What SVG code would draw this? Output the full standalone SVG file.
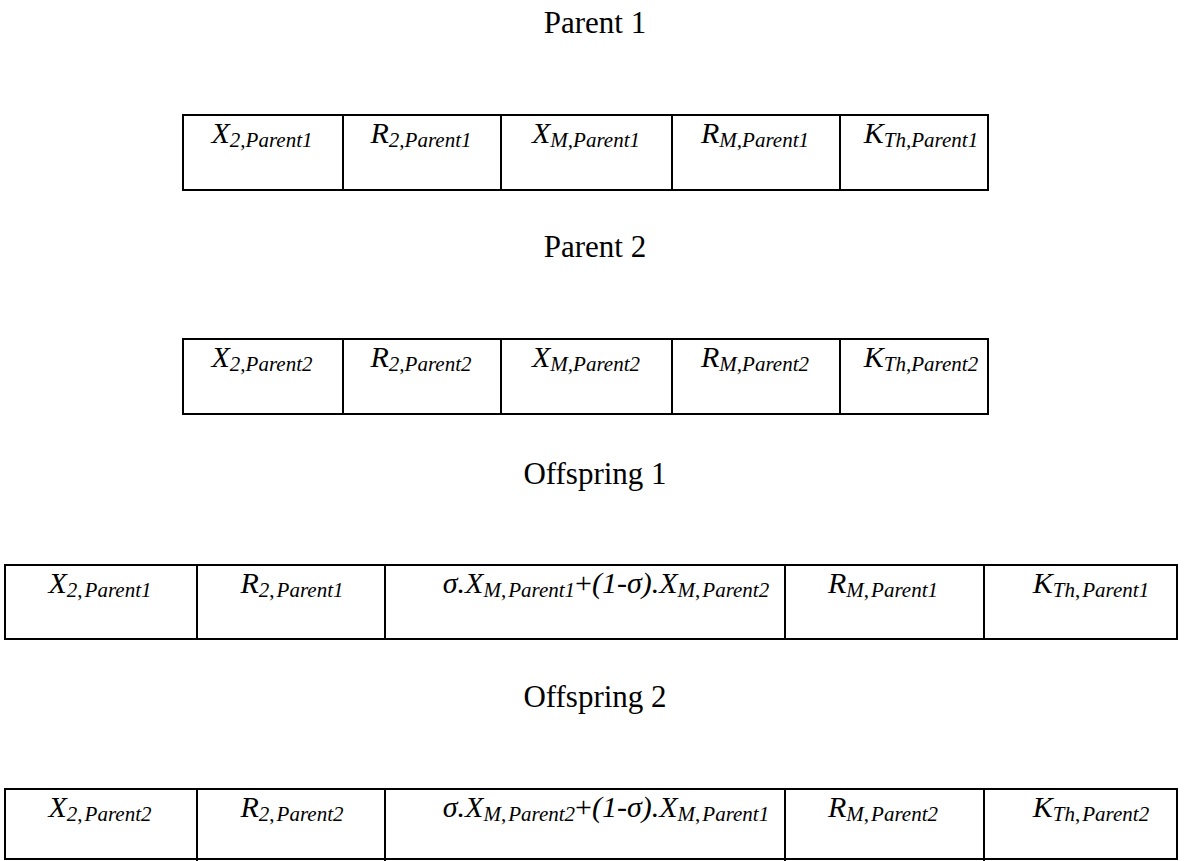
<svg xmlns="http://www.w3.org/2000/svg" width="1189" height="861" viewBox="0 0 1189 861">
<style>
.title{font-family:"Liberation Serif","Times New Roman",serif;font-size:31px;fill:#000;text-anchor:middle}
.cell{font-family:"Liberation Serif","Times New Roman",serif;font-size:30px;font-style:italic;fill:#000;text-anchor:middle}
.s{font-size:21px}
.up{font-style:normal}
.box{fill:#fff;stroke:#000;stroke-width:2}
.div{stroke:#000;stroke-width:2}
</style>
<rect width="1189" height="861" fill="#fff"/>

<g id="parent1">
<text class="title" x="595" y="33">Parent 1</text>
<rect class="box" x="183" y="115" width="805" height="75"/>
<line class="div" x1="343" y1="115" x2="343" y2="190"/>
<line class="div" x1="501" y1="115" x2="501" y2="190"/>
<line class="div" x1="672" y1="115" x2="672" y2="190"/>
<line class="div" x1="840" y1="115" x2="840" y2="190"/>
<text class="cell" x="262" y="143">X<tspan class="s" dy="4">2,Parent1</tspan></text>
<text class="cell" x="421" y="143">R<tspan class="s" dy="4">2,Parent1</tspan></text>
<text class="cell" x="586" y="143">X<tspan class="s" dy="4">M,Parent1</tspan></text>
<text class="cell" x="755" y="143">R<tspan class="s" dy="4">M,Parent1</tspan></text>
<text class="cell" x="921" y="143">K<tspan class="s" dy="4">Th,Parent1</tspan></text>
</g>

<g id="parent2">
<text class="title" x="595" y="257">Parent 2</text>
<rect class="box" x="183" y="339" width="805" height="75"/>
<line class="div" x1="343" y1="339" x2="343" y2="414"/>
<line class="div" x1="501" y1="339" x2="501" y2="414"/>
<line class="div" x1="672" y1="339" x2="672" y2="414"/>
<line class="div" x1="840" y1="339" x2="840" y2="414"/>
<text class="cell" x="262" y="367">X<tspan class="s" dy="4">2,Parent2</tspan></text>
<text class="cell" x="421" y="367">R<tspan class="s" dy="4">2,Parent2</tspan></text>
<text class="cell" x="586" y="367">X<tspan class="s" dy="4">M,Parent2</tspan></text>
<text class="cell" x="755" y="367">R<tspan class="s" dy="4">M,Parent2</tspan></text>
<text class="cell" x="921" y="367">K<tspan class="s" dy="4">Th,Parent2</tspan></text>
</g>

<g id="offspring1">
<text class="title" x="595" y="484">Offspring 1</text>
<rect class="box" x="5" y="565" width="1172" height="74"/>
<line class="div" x1="197" y1="565" x2="197" y2="639"/>
<line class="div" x1="385" y1="565" x2="385" y2="639"/>
<line class="div" x1="785" y1="565" x2="785" y2="639"/>
<line class="div" x1="984" y1="565" x2="984" y2="639"/>
<text class="cell" x="100" y="593">X<tspan class="s" dy="4">2</tspan><tspan class="s up">,</tspan><tspan class="s" dx="2">Parent1</tspan></text>
<text class="cell" x="292" y="593">R<tspan class="s" dy="4">2</tspan><tspan class="s up">,</tspan><tspan class="s" dx="2">Parent1</tspan></text>
<text class="cell" x="606" y="593">σ.X<tspan class="s" dy="4">M</tspan><tspan class="s up">,</tspan><tspan class="s" dx="2">Parent1</tspan><tspan class="up" dy="-4">+</tspan>(1-σ).X<tspan class="s" dy="4">M</tspan><tspan class="s up">,</tspan><tspan class="s" dx="2">Parent2</tspan></text>
<text class="cell" x="883" y="593">R<tspan class="s" dy="4">M</tspan><tspan class="s up">,</tspan><tspan class="s" dx="2">Parent1</tspan></text>
<text class="cell" x="1091" y="593">K<tspan class="s" dy="4">Th</tspan><tspan class="s up">,</tspan><tspan class="s" dx="2">Parent1</tspan></text>
</g>

<g id="offspring2">
<text class="title" x="595" y="707">Offspring 2</text>
<rect class="box" x="5" y="789" width="1172" height="70"/>
<line class="div" x1="197" y1="789" x2="197" y2="861"/>
<line class="div" x1="385" y1="789" x2="385" y2="861"/>
<line class="div" x1="785" y1="789" x2="785" y2="861"/>
<line class="div" x1="984" y1="789" x2="984" y2="861"/>
<text class="cell" x="100" y="817">X<tspan class="s" dy="4">2</tspan><tspan class="s up">,</tspan><tspan class="s" dx="2">Parent2</tspan></text>
<text class="cell" x="292" y="817">R<tspan class="s" dy="4">2</tspan><tspan class="s up">,</tspan><tspan class="s" dx="2">Parent2</tspan></text>
<text class="cell" x="606" y="817">σ.X<tspan class="s" dy="4">M</tspan><tspan class="s up">,</tspan><tspan class="s" dx="2">Parent2</tspan><tspan class="up" dy="-4">+</tspan>(1-σ).X<tspan class="s" dy="4">M</tspan><tspan class="s up">,</tspan><tspan class="s" dx="2">Parent1</tspan></text>
<text class="cell" x="883" y="817">R<tspan class="s" dy="4">M</tspan><tspan class="s up">,</tspan><tspan class="s" dx="2">Parent2</tspan></text>
<text class="cell" x="1091" y="817">K<tspan class="s" dy="4">Th</tspan><tspan class="s up">,</tspan><tspan class="s" dx="2">Parent2</tspan></text>
</g>

<g id="connectors"></g>
</svg>
